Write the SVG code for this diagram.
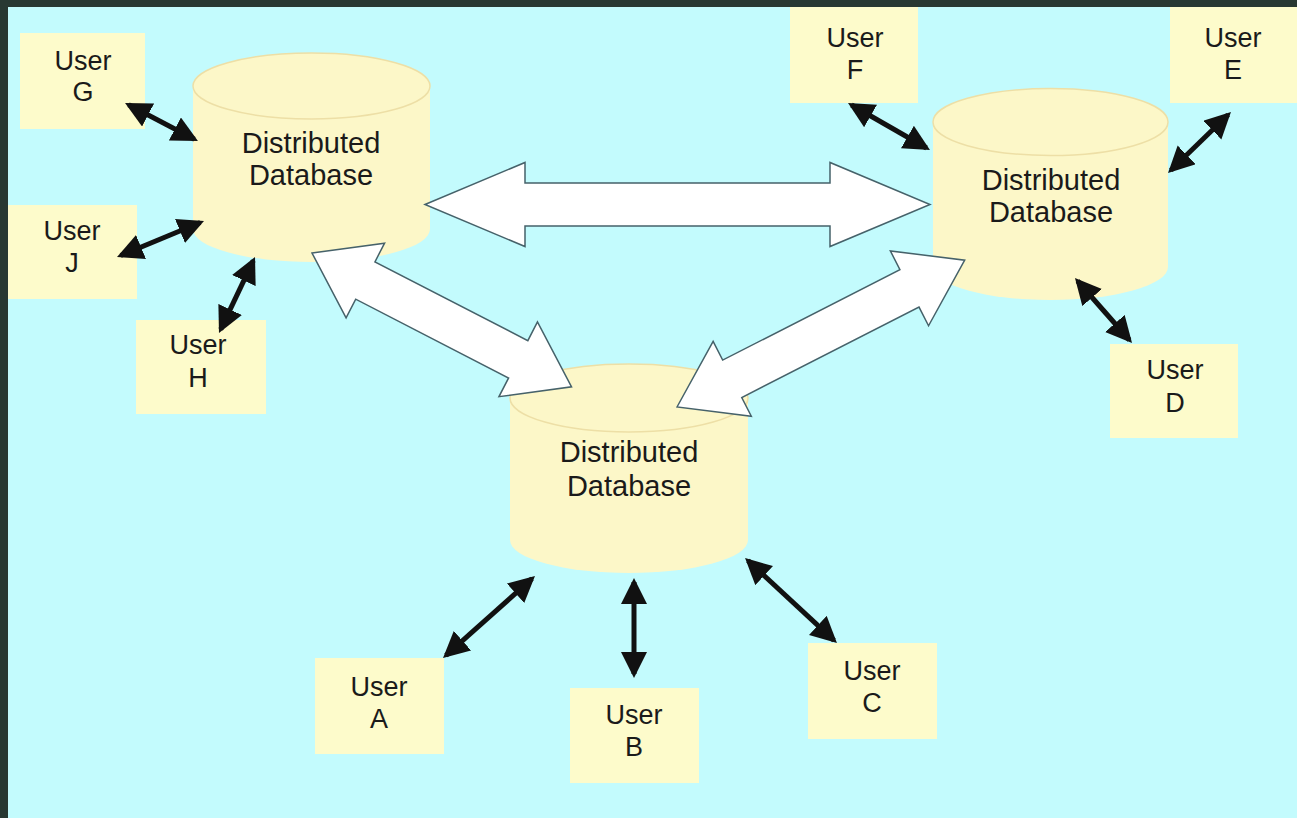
<svg xmlns="http://www.w3.org/2000/svg" width="1297" height="818" viewBox="0 0 1297 818">
<style>
.user rect{fill:#fdfbcb}
.db .body{fill:#fcf7c8}
.db .top{fill:#fcf7c8;stroke:#eddfa6;stroke-width:1.5}
text{font-family:"Liberation Sans",Arial,sans-serif;fill:#1a1a1a;text-anchor:middle}
.ut{font-size:27px}
.dt{font-size:29px}
.blk{fill:#ffffff;stroke:#46626a;stroke-width:1.5;stroke-linejoin:miter}
.thin{stroke:#111;stroke-width:5;fill:none;marker-start:url(#ah);marker-end:url(#ah)}
</style>
<defs>
<marker id="ah" markerUnits="userSpaceOnUse" markerWidth="27" markerHeight="27" refX="22" refY="13" orient="auto-start-reverse" viewBox="0 0 27 27">
<path d="M0,0 L26,13 L0,26 z" fill="#111"/>
</marker>
</defs>
<rect x="0" y="0" width="1297" height="818" fill="#283832"/>
<rect x="8" y="7" width="1289" height="811" fill="#c3fbfd"/>

<g id="db1" class="db">
<path class="body" d="M193,86 L193,229 A118.5,33 0 0 0 430,229 L430,86 z"/>
<ellipse class="top" cx="311.5" cy="86" rx="118.5" ry="33"/>
<text class="dt" x="311" y="153">Distributed</text>
<text class="dt" x="311" y="185">Database</text>
</g>
<g id="db2" class="db">
<path class="body" d="M933,122 L933,267 A117.5,33 0 0 0 1168,267 L1168,122 z"/>
<ellipse class="top" cx="1050.5" cy="122" rx="117.5" ry="33.5"/>
<text class="dt" x="1051" y="190">Distributed</text>
<text class="dt" x="1051" y="222">Database</text>
</g>
<g id="db3" class="db">
<path class="body" d="M510,398 L510,540 A119,33 0 0 0 748,540 L748,398 z"/>
<ellipse class="top" cx="629" cy="398" rx="119" ry="34"/>
<text class="dt" x="629" y="462">Distributed</text>
<text class="dt" x="629" y="496">Database</text>
</g>

<g id="userG" class="user"><rect x="20" y="33" width="125" height="96"/><text class="ut" x="83" y="70">User</text><text class="ut" x="83" y="101">G</text></g>
<g id="userJ" class="user"><rect x="8" y="205" width="129" height="94"/><text class="ut" x="72" y="240">User</text><text class="ut" x="72" y="272">J</text></g>
<g id="userH" class="user"><rect x="136" y="320" width="130" height="94"/><text class="ut" x="198" y="354">User</text><text class="ut" x="198" y="387">H</text></g>
<g id="userF" class="user"><rect x="790" y="7" width="128" height="96"/><text class="ut" x="855" y="47">User</text><text class="ut" x="855" y="79">F</text></g>
<g id="userE" class="user"><rect x="1170" y="7" width="127" height="96"/><text class="ut" x="1233" y="47">User</text><text class="ut" x="1233" y="79">E</text></g>
<g id="userD" class="user"><rect x="1110" y="344" width="128" height="94"/><text class="ut" x="1175" y="379">User</text><text class="ut" x="1175" y="412">D</text></g>
<g id="userA" class="user"><rect x="315" y="658" width="129" height="96"/><text class="ut" x="379" y="696">User</text><text class="ut" x="379" y="728">A</text></g>
<g id="userB" class="user"><rect x="570" y="688" width="129" height="95"/><text class="ut" x="634" y="724">User</text><text class="ut" x="634" y="756">B</text></g>
<g id="userC" class="user"><rect x="808" y="643" width="129" height="96"/><text class="ut" x="872" y="680">User</text><text class="ut" x="872" y="712">C</text></g>

<g id="connectors">
<polygon class="blk" transform="translate(425,204.5)" points="0,0 100,-42 100,-21.5 405,-21.5 405,-42 505,0 405,42 405,21.5 100,21.5 100,42"/>
<polygon class="blk" transform="translate(312,253) rotate(27.27)" points="0,0 60,-42 60,-21 232,-21 232,-42 292,0 232,42 232,21 60,21 60,42"/>
<polygon class="blk" transform="translate(677,407) rotate(-27.04)" points="0,0 62,-42 62,-21 261,-21 261,-42 323,0 261,42 261,21 62,21 62,42"/>
<line class="thin" x1="128.6" y1="104.8" x2="194.4" y2="139.2"/>
<line class="thin" x1="120.7" y1="255.5" x2="200.3" y2="222.5"/>
<line class="thin" x1="220.7" y1="329.4" x2="253.3" y2="260.6"/>
<line class="thin" x1="851.5" y1="105" x2="926.5" y2="148"/>
<line class="thin" x1="1170.9" y1="170.2" x2="1228.1" y2="114.8"/>
<line class="thin" x1="1077.6" y1="281" x2="1129.4" y2="340"/>
<line class="thin" x1="446" y1="655.3" x2="532" y2="578.7"/>
<line class="thin" x1="634" y1="582" x2="634" y2="674"/>
<line class="thin" x1="748" y1="560.7" x2="834" y2="640.3"/>
</g>
</svg>
